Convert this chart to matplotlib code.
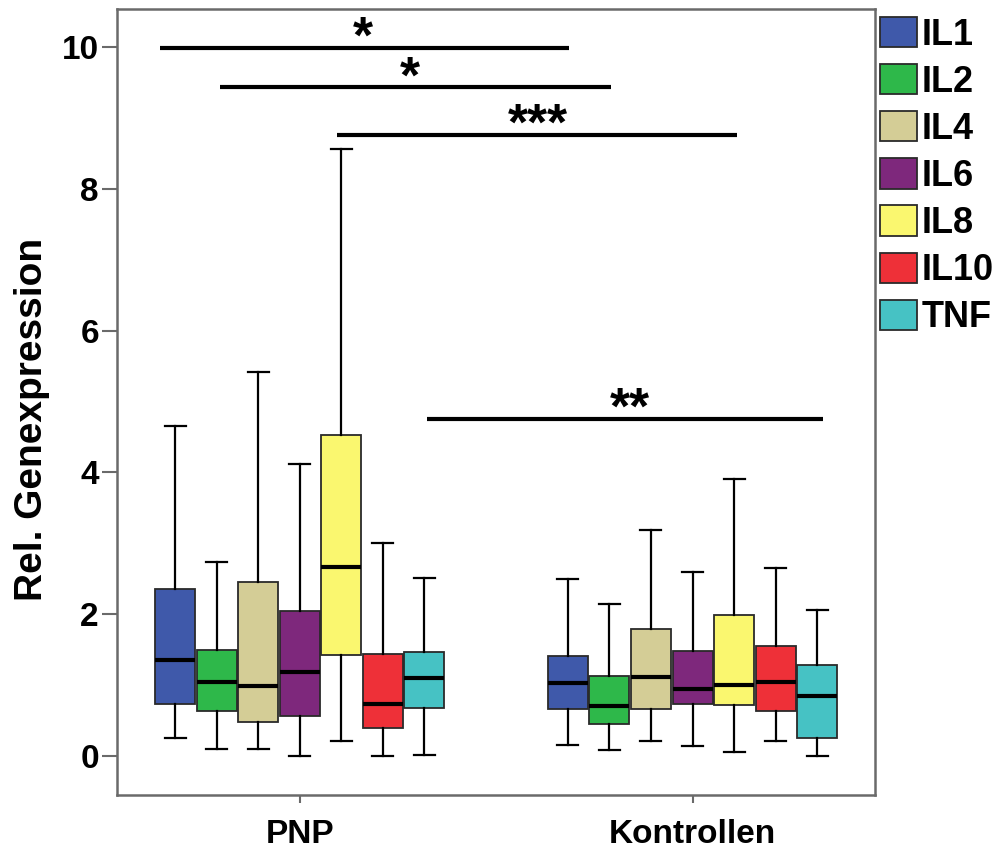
import matplotlib
matplotlib.use("Agg")
import matplotlib.pyplot as plt
from matplotlib.patches import Patch

plt.rcParams['font.family'] = ['Liberation Sans', 'DejaVu Sans']
plt.rcParams['font.weight'] = 'bold'

genes = ["IL1", "IL2", "IL4", "IL6", "IL8", "IL10", "TNF"]
groups = ["PNP", "Kontrollen"]
colors = ["#3F59AA", "#2EB84A", "#D4CD96", "#7E287C", "#FAF76F", "#EE3038", "#46C2C4"]

# PNP summary statistics
pnp_whislo = [0.26, 0.10, 0.10, 0.00, 0.21, 0.00, 0.01]
pnp_q1     = [0.74, 0.63, 0.48, 0.57, 1.42, 0.39, 0.68]
pnp_med    = [1.36, 1.04, 0.99, 1.19, 2.67, 0.73, 1.10]
pnp_q3     = [2.36, 1.50, 2.45, 2.05, 4.53, 1.44, 1.47]
pnp_whishi = [4.65, 2.73, 5.42, 4.12, 8.56, 3.01, 2.51]

# Kontrollen summary statistics
kon_whislo = [0.16, 0.09, 0.21, 0.14, 0.05, 0.21, 0.00]
kon_q1     = [0.66, 0.45, 0.66, 0.74, 0.72, 0.63, 0.25]
kon_med    = [1.03, 0.70, 1.11, 0.94, 1.00, 1.05, 0.85]
kon_q3     = [1.41, 1.13, 1.79, 1.48, 1.99, 1.55, 1.28]
kon_whishi = [2.49, 2.15, 3.19, 2.60, 3.91, 2.65, 2.06]

# significance bars: (x start, x end, y, label)
sig_x0 = [-0.356, -0.203, 0.094, 0.323]
sig_x1 = [0.686, 0.793, 1.113, 1.333]
sig_y = [9.99, 9.43, 8.76, 4.76]
sig_labels = ["*", "*", "***", "**"]
sig_label_x = [0.161, 0.281, 0.606, 0.840]

fig = plt.figure(figsize=(10.02, 8.49), dpi=100)
ax = fig.add_axes([0.11677, 0.0636, 0.7565, 0.9258])

step = 0.1057
width = 0.1018
stats_sets = [
    (pnp_whislo, pnp_q1, pnp_med, pnp_q3, pnp_whishi),
    (kon_whislo, kon_q1, kon_med, kon_q3, kon_whishi),
]
for gi, (wl, q1, med, q3, wh) in enumerate(stats_sets):
    stats = []
    for i in range(len(genes)):
        stats.append(dict(whislo=wl[i], q1=q1[i], med=med[i], q3=q3[i],
                          whishi=wh[i], fliers=[], label=genes[i]))
    positions = [gi + (i - 3) * step for i in range(len(genes))]
    bp = ax.bxp(stats, positions=positions, widths=width, patch_artist=True,
                showfliers=False, capwidths=0.0535, manage_ticks=False,
                boxprops=dict(edgecolor="#2a2a2a", linewidth=1.3),
                medianprops=dict(color="black", linewidth=3.0),
                whiskerprops=dict(color="black", linewidth=1.6),
                capprops=dict(color="black", linewidth=1.6))
    for patch, c in zip(bp["boxes"], colors):
        patch.set_facecolor(c)

ax.set_xlim(-0.465, 1.4646)
ax.set_ylim(-0.55, 10.536)
ax.set_xticks([0, 1])
ax.set_xticklabels(groups)
ax.set_yticks([0, 2, 4, 6, 8, 10])

em_px = 37 / 72 * 100
for x0, x1, y, lab, lx in zip(sig_x0, sig_x1, sig_y, sig_labels, sig_label_x):
    ax.plot([x0, x1], [y, y], color="black", linewidth=3.0, solid_capstyle="butt")
    ax.text(lx, y + 0.34 - 0.57 * em_px / 70.9, lab, ha="center", va="baseline",
            fontsize=37, fontweight="bold")

for sp in ax.spines.values():
    sp.set_color("#6a6a6a")
    sp.set_linewidth(1.8)

ax.tick_params(axis="both", direction="out", colors="#6a6a6a", labelcolor="black",
               width=1.5, labelsize=24)
ax.tick_params(axis="y", length=11, pad=2)
ax.tick_params(axis="x", length=6, pad=11)
for t in ax.get_xticklabels() + ax.get_yticklabels():
    t.set_fontweight("bold")

ax.set_ylabel("Rel. Genexpression", fontsize=28, fontweight="bold")
ax.yaxis.set_label_coords(-0.088, 0.478)

handles = [Patch(facecolor=c, edgecolor="#2a2a2a", linewidth=1.3) for c in colors]
leg = fig.legend(handles, genes, loc="upper left",
                 bbox_to_anchor=(880 / 1002, 1 - 17 / 849), frameon=False,
                 fontsize=26, handlelength=1.02, handleheight=0.91,
                 handletextpad=0.14, labelspacing=0.32, borderpad=0,
                 borderaxespad=0)
for t in leg.get_texts():
    t.set_fontweight("bold")

fig.savefig("out.png", dpi=100)
